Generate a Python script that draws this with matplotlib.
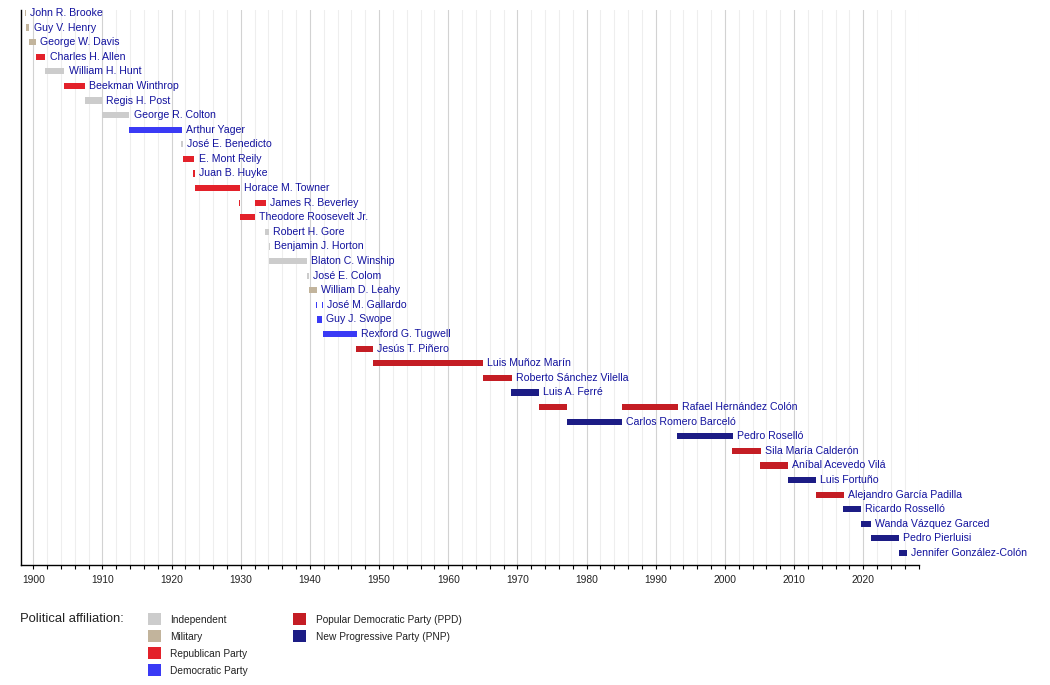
import matplotlib
matplotlib.use("Agg")
import matplotlib.pyplot as plt
from matplotlib.patches import Rectangle
from matplotlib.ticker import MultipleLocator

plt.rcParams['font.family'] = ['Liberation Sans', 'DejaVu Sans']

governors = [
    "John R. Brooke", "Guy V. Henry", "George W. Davis", "Charles H. Allen",
    "William H. Hunt", "Beekman Winthrop", "Regis H. Post", "George R. Colton",
    "Arthur Yager", "José E. Benedicto", "E. Mont Reily", "Juan B. Huyke",
    "Horace M. Towner", "James R. Beverley", "Theodore Roosevelt Jr.",
    "Robert H. Gore", "Benjamin J. Horton", "Blaton C. Winship", "José E. Colom",
    "William D. Leahy", "José M. Gallardo", "Guy J. Swope", "Rexford G. Tugwell",
    "Jesús T. Piñero", "Luis Muñoz Marín", "Roberto Sánchez Vilella",
    "Luis A. Ferré", "Rafael Hernández Colón", "Carlos Romero Barceló",
    "Pedro Roselló", "Sila María Calderón", "Aníbal Acevedo Vilá",
    "Luis Fortuño", "Alejandro García Padilla", "Ricardo Rosselló",
    "Wanda Vázquez Garced", "Pedro Pierluisi", "Jennifer González-Colón",
]

term_governor = [
    "John R. Brooke", "Guy V. Henry", "George W. Davis", "Charles H. Allen",
    "William H. Hunt", "Beekman Winthrop", "Regis H. Post", "George R. Colton",
    "Arthur Yager", "José E. Benedicto", "E. Mont Reily", "Juan B. Huyke",
    "Horace M. Towner", "James R. Beverley", "Theodore Roosevelt Jr.",
    "James R. Beverley", "Robert H. Gore", "Benjamin J. Horton",
    "Blaton C. Winship", "José E. Colom", "William D. Leahy", "José M. Gallardo",
    "Guy J. Swope", "José M. Gallardo", "Rexford G. Tugwell", "Jesús T. Piñero",
    "Luis Muñoz Marín", "Roberto Sánchez Vilella", "Luis A. Ferré",
    "Rafael Hernández Colón", "Carlos Romero Barceló", "Rafael Hernández Colón",
    "Pedro Roselló", "Sila María Calderón", "Aníbal Acevedo Vilá",
    "Luis Fortuño", "Alejandro García Padilla", "Ricardo Rosselló",
    "Wanda Vázquez Garced", "Pedro Pierluisi", "Jennifer González-Colón",
]
term_start = [
    1898.79, 1898.95, 1899.45, 1900.42, 1901.75, 1904.5, 1907.45, 1909.9,
    1913.9, 1921.4, 1921.7, 1923.15, 1923.35, 1929.75, 1929.85, 1932.1,
    1933.5, 1934.05, 1934.12, 1939.5, 1939.8, 1940.92, 1941.05, 1941.78,
    1941.85, 1946.7, 1949.05, 1965.05, 1969.1, 1973.05, 1977.1, 1985.05,
    1993.1, 2001.05, 2005.1, 2009.05, 2013.1, 2017.1, 2019.6, 2021.05, 2025.1,
]
term_end = [
    1898.95, 1899.45, 1900.42, 1901.75, 1904.5, 1907.45, 1909.9, 1913.9,
    1921.45, 1921.65, 1923.3, 1923.4, 1929.85, 1929.9, 1932.1, 1933.6,
    1934.1, 1934.17, 1939.6, 1939.8, 1940.95, 1941.05, 1941.75, 1941.9,
    1946.75, 1949.1, 1965.05, 1969.15, 1973.1, 1977.15, 1985.1, 1993.15,
    2001.1, 2005.15, 2009.1, 2013.1, 2017.15, 2019.6, 2021.05, 2025.1, 2026.3,
]
term_party = [
    "Military", "Military", "Military", "Republican Party",
    "Independent", "Republican Party", "Independent", "Independent",
    "Democratic Party", "Independent", "Republican Party", "Republican Party",
    "Republican Party", "Republican Party", "Republican Party", "Republican Party",
    "Independent", "Independent", "Independent", "Independent",
    "Military", "Democratic Party", "Democratic Party", "Democratic Party",
    "Democratic Party", "Popular Democratic Party (PPD)",
    "Popular Democratic Party (PPD)", "Popular Democratic Party (PPD)",
    "New Progressive Party (PNP)", "Popular Democratic Party (PPD)",
    "New Progressive Party (PNP)", "Popular Democratic Party (PPD)",
    "New Progressive Party (PNP)", "Popular Democratic Party (PPD)",
    "Popular Democratic Party (PPD)", "New Progressive Party (PNP)",
    "Popular Democratic Party (PPD)", "New Progressive Party (PNP)",
    "New Progressive Party (PNP)", "New Progressive Party (PNP)",
    "New Progressive Party (PNP)",
]

parties = ["Independent", "Military", "Republican Party", "Democratic Party",
           "Popular Democratic Party (PPD)", "New Progressive Party (PNP)"]
party_colors = ["#cccccc", "#c2b49c", "#e3212a", "#3a3af5", "#c41d24", "#1c1c85"]
color_of = dict(zip(parties, party_colors))

tick_years = list(range(1900, 2021, 10))
x_range = [1898.18, 2028.05]

fig = plt.figure(figsize=(10.5, 6.85), dpi=100)
ax = fig.add_axes([20.7 / 1050, 1 - 565 / 685, (919 - 20.7) / 1050, (565 - 10) / 685])

row_of = {g: i for i, g in enumerate(governors)}
bar_h = 0.42
last_end = {}
for g, s, e, p in zip(term_governor, term_start, term_end, term_party):
    r = row_of[g]
    ax.barh(r, e - s, left=s, height=bar_h, color=color_of[p], linewidth=0, zorder=3)
    last_end[g] = max(last_end.get(g, 0), e)

for g in governors:
    ax.annotate(g, (last_end[g], row_of[g]), xytext=(3.0, 0), textcoords="offset points",
                va="center", ha="left", fontsize=7.6, color="#12129e", zorder=4)

ax.set_xlim(*x_range)
ax.set_ylim(len(governors) - 1 + 0.82, -0.2)
ax.set_xticks(tick_years)
ax.set_xticklabels([str(y) for y in tick_years])
ax.xaxis.set_minor_locator(MultipleLocator(2))
ax.tick_params(axis="x", which="both", direction="out", length=3, width=0.8,
               labelsize=7.4, labelcolor="#222222", pad=4)
ax.set_yticks([])
ax.grid(True, axis="x", which="minor", color="#eeeeee", linewidth=0.8, zorder=0)
ax.grid(True, axis="x", which="major", color="#d2d2d2", linewidth=0.8, zorder=1)
ax.set_axisbelow(True)
for sp in ["top", "right"]:
    ax.spines[sp].set_visible(False)
for sp in ["left", "bottom"]:
    ax.spines[sp].set_linewidth(1.0)
    ax.spines[sp].set_color("black")

# legend
def fx(px):
    return px / 1050

def fy(py):
    return 1 - py / 685

fig.text(fx(20), fy(619), "Political affiliation:", fontsize=9.4, va="center",
         ha="left", color="#222222")
col_x = [148, 293]
for i, (p, c) in enumerate(zip(parties, party_colors)):
    col = 0 if i < 4 else 1
    row = i if i < 4 else i - 4
    yc = 619 + 17 * row
    fig.add_artist(Rectangle((fx(col_x[col]), fy(yc + 6)), 12.5 / 1050, 12.5 / 685,
                             transform=fig.transFigure, color=c, linewidth=0))
    fig.text(fx(col_x[col] + 22.5), fy(yc + 1), p, fontsize=7.3, va="center",
             ha="left", color="#222222")

fig.savefig("out.png", dpi=100)
